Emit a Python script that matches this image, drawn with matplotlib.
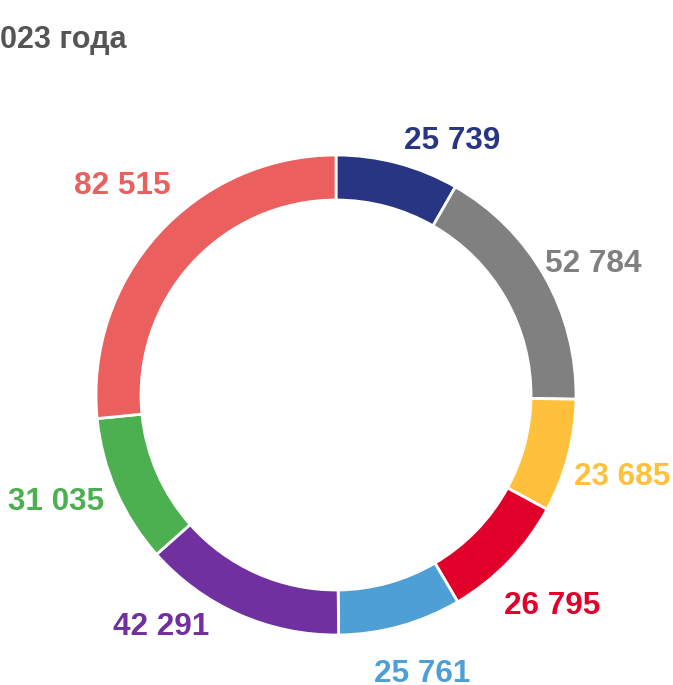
import numpy as np
import matplotlib.pyplot as plt

values = [25739, 52784, 23685, 26795, 25761, 42291, 31035, 82515]
labels = ["25 739", "52 784", "23 685", "26 795", "25 761", "42 291", "31 035", "82 515"]
colors = ["#283583", "#808080", "#FFC13B", "#E1002A", "#4F9FD7", "#7030A0", "#4CAF50", "#EB5F5F"]
title = "023 года"

# label layout: angle shift from slice middle (degrees) and distance from centre
label_shift = [9.4, 1.9, 0.5, -0.2, -1.8, 13.5, 3.4, 2.7]
label_dist = [283, 290, 297, 300, 289, 288, 298, 301]

plt.rcParams['font.family'] = ['Liberation Sans', 'DejaVu Sans']

fig = plt.figure(figsize=(6.73, 6.85), dpi=100)
ax = fig.add_axes([0, 0, 1, 1])

radius = 240
wedges, _ = ax.pie(values, colors=colors, radius=radius, startangle=90, counterclock=False,
                   wedgeprops=dict(width=45, edgecolor='white', linewidth=2))

ax.set_xlim(-336, 337)
ax.set_ylim(-290, 395)
ax.set_aspect('auto')
ax.axis('off')

total = sum(values)
start = 0
for i, (v, lab, col) in enumerate(zip(values, labels, colors)):
    ang = np.radians((start + v / 2) / total * 360 + label_shift[i])
    start += v
    x = label_dist[i] * np.sin(ang)
    y = label_dist[i] * np.cos(ang)
    ax.text(x, y, lab, ha='center', va='center_baseline', color=col,
            fontsize=22.7, fontweight='bold')

ax.text(-336, 355, title, ha='left', va='center', color='#555555', fontsize=22, fontweight='bold')

fig.savefig('out.png', dpi=100)
